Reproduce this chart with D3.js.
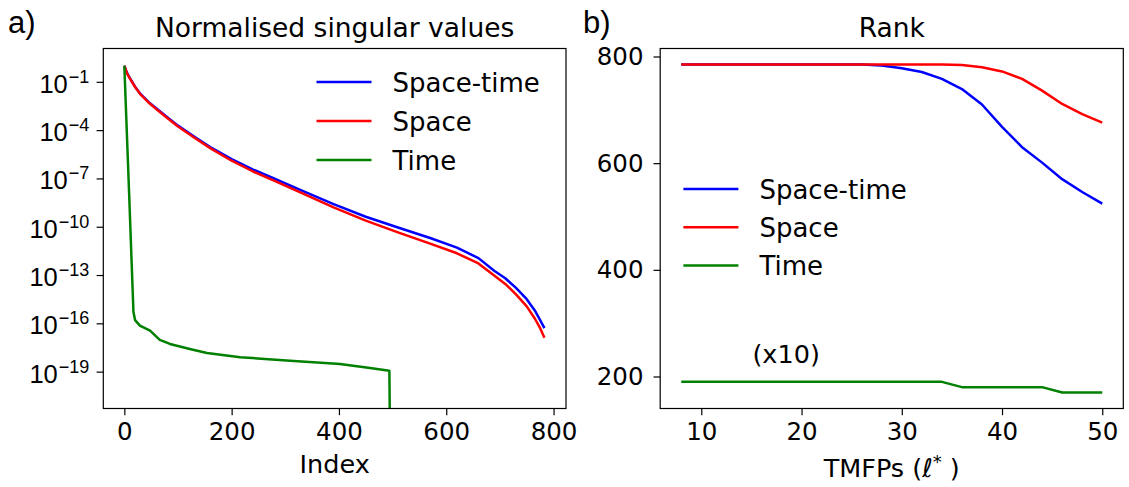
<!DOCTYPE html>
<html>
<head>
<meta charset="utf-8">
<script src="https://cdn.jsdelivr.net/npm/d3@7"></script>
<style>
  body { margin: 0; background: #fff; }
  svg { display: block; font-family: "DejaVu Sans", sans-serif; }
  .tick text { fill: #000; }
</style>
</head>
<body>
<svg id="chart" width="1129" height="487"></svg>
<script>
// ---- data: panel a (normalised singular values, log10 exponents) ----
const svIndex = [0, 5, 10, 20, 30, 45, 60, 80, 100, 130, 160, 200, 240, 280, 330, 390, 450, 510, 570, 620, 660, 690, 710, 730, 750, 765, 775, 783];
const svSpaceTimeExp = [0, -0.45, -0.75, -1.3, -1.75, -2.25, -2.66, -3.2, -3.72, -4.4, -5.05, -5.8, -6.45, -7.02, -7.74, -8.6, -9.38, -10.05, -10.7, -11.3, -11.95, -12.75, -13.2, -13.8, -14.5, -15.2, -15.8, -16.3];
const svSpaceExp = [0, -0.47, -0.77, -1.32, -1.78, -2.28, -2.7, -3.25, -3.77, -4.46, -5.12, -5.9, -6.57, -7.15, -7.9, -8.8, -9.62, -10.35, -11.05, -11.65, -12.28, -13.05, -13.55, -14.2, -14.95, -15.7, -16.3, -16.9];
const svTimeIndex = [0, 9, 17, 20, 29, 48, 66, 85, 122, 154, 216, 309, 402, 458, 494, 497];
const svTimeExp = [0, -8, -15.3, -15.8, -16.14, -16.45, -17.03, -17.28, -17.59, -17.84, -18.11, -18.32, -18.52, -18.77, -18.94, -30];
const svXTicks = [0, 200, 400, 600, 800];
const svYTickExp = [-1, -4, -7, -10, -13, -16, -19];

// ---- data: panel b (rank vs TMFPs) ----
const tmfp = [8, 10, 12, 14, 16, 18, 20, 22, 24, 26, 28, 30, 32, 34, 36, 38, 40, 42, 44, 46, 48, 50];
const rankSpaceTime = [785, 785, 785, 785, 785, 785, 785, 785, 785, 785, 783, 778, 771, 758, 739, 710, 668, 630, 601, 570, 546, 524];
const rankSpace = [785, 785, 785, 785, 785, 785, 785, 785, 785, 785, 785, 785, 785, 785, 784, 780, 772, 758, 736, 711, 692, 676];
const rankTime = [190, 190, 190, 190, 190, 190, 190, 190, 190, 190, 190, 190, 190, 190, 180, 180, 180, 180, 180, 170, 170, 170];
const rankXTicks = [10, 20, 30, 40, 50];
const rankYTicks = [200, 400, 600, 800];

const seriesNames = ["Space-time", "Space", "Time"];
const colors = ["#0000ff", "#ff0000", "#008000"];

const svg = d3.select("#chart");
const plotTop = 48.5, plotBottom = 408.5;
const tickFont = 24.5, labelFont = 26;

function frame(g, x0, x1, id) {
    g.append("clipPath").attr("id", id)
        .append("rect").attr("x", x0).attr("y", plotTop).attr("width", x1 - x0).attr("height", plotBottom - plotTop);
    return g.append("g").attr("clip-path", `url(#${id})`);
}

function border(g, x0, x1) {
    g.append("rect")
        .attr("x", x0).attr("y", plotTop)
        .attr("width", x1 - x0).attr("height", plotBottom - plotTop)
        .attr("fill", "none").attr("stroke", "#000").attr("stroke-width", 1.2);
}

function styleAxis(ax) {
    ax.select(".domain").remove();
    ax.selectAll(".tick line").attr("stroke", "#000").attr("stroke-width", 1.2);
    ax.selectAll(".tick text").attr("font-size", tickFont).attr("font-family", "DejaVu Sans");
}

function legend(g, lx, ly, gap) {
    seriesNames.forEach((name, i) => {
        const y = ly + i * gap;
        g.append("line").attr("x1", lx).attr("x2", lx + 55).attr("y1", y).attr("y2", y)
            .attr("stroke", colors[i]).attr("stroke-width", 2.5);
        g.append("text").attr("x", lx + 76).attr("y", y + 9.5).attr("font-size", labelFont).text(name);
    });
}

// ================= panel a =================
{
    const x0 = 103.3, x1 = 566;
    const x = d3.scaleLinear().domain([-39.2, 823.2]).range([x0, x1]);
    const y = d3.scaleLog().domain([Math.pow(10, -21.29), Math.pow(10, 1.07)]).range([plotBottom, plotTop]);
    const g = svg.append("g");

    const xa = g.append("g").attr("transform", `translate(0,${plotBottom})`)
        .call(d3.axisBottom(x).tickValues(svXTicks).tickSize(6.7).tickPadding(7.5).tickFormat(d3.format("d")));
    styleAxis(xa);

    const ya = g.append("g").attr("transform", `translate(${x0},0)`)
        .call(d3.axisLeft(y).tickValues(svYTickExp.map(e => Math.pow(10, e))).tickSize(6.7).tickFormat(""));
    styleAxis(ya);
    ya.selectAll(".tick").each(function (d, i) {
        const t = d3.select(this).append("text")
            .attr("x", -14).attr("y", 10.5).attr("text-anchor", "end")
            .attr("font-size", 25.5).attr("fill", "#000");
        t.append("tspan").text("10");
        t.append("tspan").attr("dx", 1).attr("dy", -10).attr("font-size", 18).text("\u2212" + Math.abs(svYTickExp[i]));
    });

    const plot = frame(g, x0, x1, "clipA");
    const line = d3.line().x(d => x(d[0])).y(d => y(d[1]));
    const sets = [
        svIndex.map((v, i) => [v, Math.pow(10, svSpaceTimeExp[i])]),
        svIndex.map((v, i) => [v, Math.pow(10, svSpaceExp[i])]),
        svTimeIndex.map((v, i) => [v, Math.pow(10, svTimeExp[i])])
    ];
    sets.forEach((s, i) => {
        plot.append("path").datum(s).attr("d", line)
            .attr("fill", "none").attr("stroke", colors[i]).attr("stroke-width", 2.5)
            .attr("stroke-linejoin", "round");
    });
    border(g, x0, x1);
    legend(g, 316.5, 82, 39);

    g.append("text").attr("x", (x0 + x1) / 2).attr("y", 37).attr("text-anchor", "middle")
        .attr("font-size", 26.5).text("Normalised singular values");
    g.append("text").attr("x", (x0 + x1) / 2).attr("y", 473).attr("text-anchor", "middle")
        .attr("font-size", 25.5).text("Index");
    g.append("text").attr("x", 8).attr("y", 33).attr("font-family", "Liberation Sans")
        .attr("font-size", 31).text("a)");
}

// ================= panel b =================
{
    const x0 = 660.2, x1 = 1123.3;
    const x = d3.scaleLinear().domain([5.9, 52.1]).range([x0, x1]);
    const y = d3.scaleLinear().domain([140, 815]).range([plotBottom, plotTop]);
    const g = svg.append("g");

    const xa = g.append("g").attr("transform", `translate(0,${plotBottom})`)
        .call(d3.axisBottom(x).tickValues(rankXTicks).tickSize(6.7).tickPadding(7.5));
    styleAxis(xa);
    const ya = g.append("g").attr("transform", `translate(${x0},0)`)
        .call(d3.axisLeft(y).tickValues(rankYTicks).tickSize(6.7).tickPadding(10));
    styleAxis(ya);

    const plot = frame(g, x0, x1, "clipB");
    const line = d3.line().x((d, i) => x(tmfp[i])).y(d => y(d));
    [rankSpaceTime, rankSpace, rankTime].forEach((s, i) => {
        plot.append("path").datum(s).attr("d", line)
            .attr("fill", "none").attr("stroke", colors[i]).attr("stroke-width", 2.5)
            .attr("stroke-linejoin", "round");
    });
    border(g, x0, x1);
    legend(g, 683.4, 189, 38.2);

    g.append("text").attr("x", x(15.1)).attr("y", y(225)).attr("font-size", 25.5).text("(x10)");

    g.append("text").attr("x", (x0 + x1) / 2).attr("y", 37).attr("text-anchor", "middle")
        .attr("font-size", 26.5).text("Rank");
    const xl = g.append("text").attr("x", (x0 + x1) / 2).attr("y", 477).attr("text-anchor", "middle")
        .attr("font-size", 25.5);
    xl.append("tspan").text("TMFPs (");
    xl.append("tspan").attr("font-style", "italic").text("\u2113");
    xl.append("tspan").attr("dy", -9).attr("font-size", 18).text("*");
    xl.append("tspan").attr("dy", 9).text(" )");
    g.append("text").attr("x", 583).attr("y", 33).attr("font-family", "Liberation Sans")
        .attr("font-size", 31).text("b)");
}
</script>
</body>
</html>
